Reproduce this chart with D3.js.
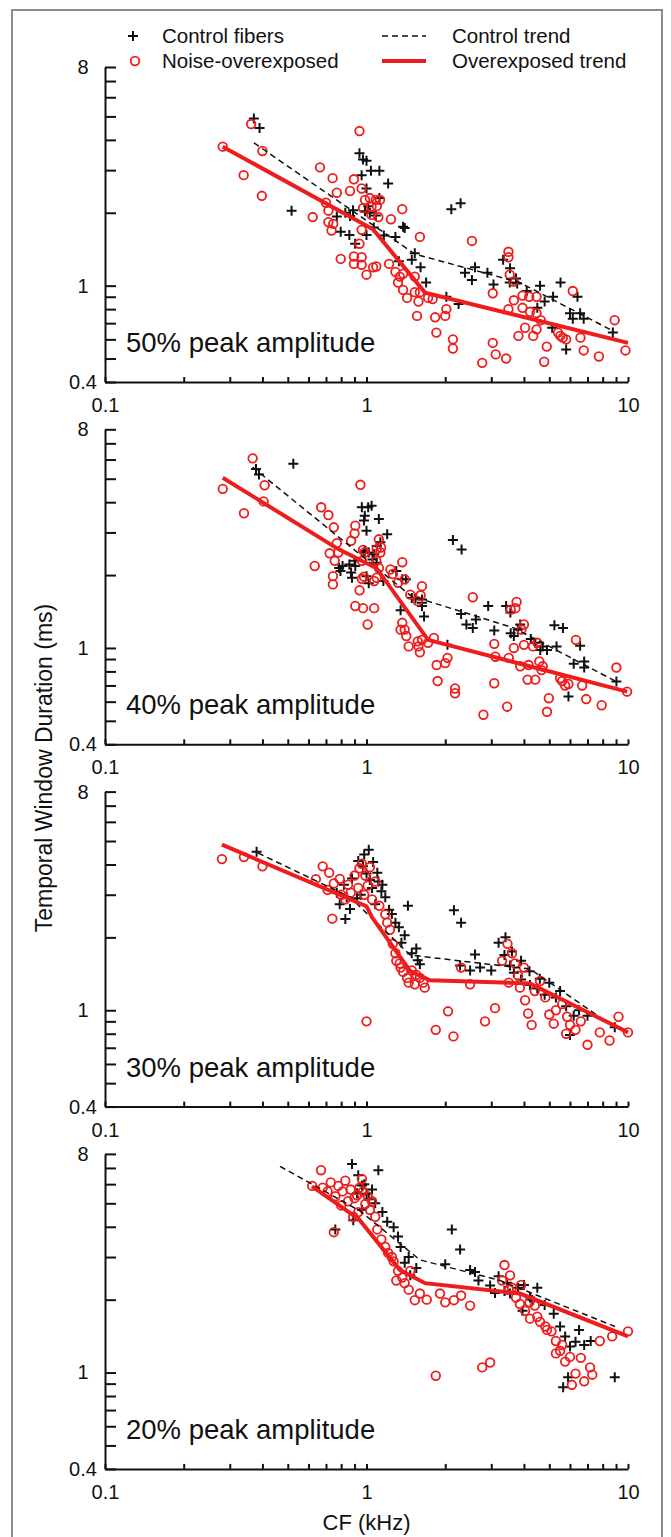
<!doctype html>
<html lang="en">
<head>
<meta charset="utf-8">
<title>Temporal window duration vs CF</title>
<script src="https://cdn.jsdelivr.net/npm/d3@7"></script>
<style>
  body { margin: 0; background: #fff; }
  svg text { font-family: Arial, "Liberation Sans", sans-serif; fill: #111; }
  .axis path, .axis line { stroke: #111; stroke-width: 2; }
  .axis text { font-size: 20px; }
  .ctrl { stroke: #111; stroke-width: 2; fill: none; }
  .noise { fill: none; stroke: #ee1c1c; stroke-width: 1.8; }
  .trend-ctrl { fill: none; stroke: #111; stroke-width: 1.5; stroke-dasharray: 6 4; }
  .trend-noise { fill: none; stroke: #ee1c1c; stroke-width: 4; }
</style>
</head>
<body>
<div id="chart"></div>
<script>
// panel titles, top to bottom
const levels = ['50% peak amplitude', '40% peak amplitude', '30% peak amplitude', '20% peak amplitude'];

// [CF (kHz), window duration (ms)]
const control50 = [[0.371,4.9],[0.39,4.48],[0.517,2.04],[0.94,3.52],[0.97,3.32],[1.0,3.28],[0.958,2.86],[1.04,2.98],[1.12,2.98],[1.21,2.64],[1.0,2.52],[1.12,2.30],[1.016,2.13],[0.987,2.03],[1.03,2.0],[1.085,1.95],[0.888,2.05],[0.83,2.0],[0.77,1.93],[0.865,1.94],[0.797,1.67],[0.86,1.62],[0.905,1.49],[1.0,1.62],[1.066,1.74],[1.165,1.61],[1.29,1.59],[1.38,1.75],[1.40,1.73],[2.11,2.07],[2.29,2.19],[1.53,1.36],[1.49,1.28],[1.33,1.26],[1.61,1.19],[1.69,1.03],[2.02,0.90],[2.25,0.84],[2.38,1.13],[2.60,1.19],[2.53,1.055],[2.90,1.13],[3.06,1.01],[3.33,1.28],[3.54,1.18],[3.53,1.03],[3.73,1.07],[3.77,1.02],[4.10,0.95],[4.61,1.0],[4.50,0.81],[4.80,0.86],[5.17,0.90],[5.52,1.03],[6.41,0.90],[6.0,0.77],[6.56,0.77],[6.15,0.73],[6.77,0.73],[5.13,0.67],[5.80,0.545],[8.75,0.64]];
const noise50 = [[0.282,3.75],[0.362,4.65],[0.40,3.60],[0.339,2.86],[0.398,2.35],[0.623,1.92],[0.664,3.08],[0.70,2.20],[0.715,2.04],[0.715,1.83],[0.94,4.35],[0.742,2.78],[0.895,2.75],[0.77,2.42],[0.865,2.46],[0.958,2.52],[0.746,1.80],[0.735,1.69],[0.958,1.70],[0.94,1.49],[0.797,1.29],[0.895,1.32],[0.958,1.31],[0.895,1.23],[0.958,1.22],[1.0,1.11],[1.06,1.19],[1.09,1.20],[0.987,2.26],[1.03,2.30],[1.085,2.26],[1.126,2.26],[0.97,2.09],[1.045,2.12],[1.095,2.13],[1.11,1.92],[1.045,1.96],[1.37,2.07],[1.24,1.88],[1.60,1.59],[1.22,1.23],[1.29,1.14],[1.34,1.09],[1.38,1.12],[1.32,1.03],[1.53,1.09],[1.38,0.96],[1.53,0.94],[1.60,0.94],[1.43,0.89],[1.58,0.86],[1.72,0.89],[1.79,0.88],[1.56,0.75],[1.83,0.74],[2.0,0.75],[2.02,0.80],[1.85,0.64],[2.14,0.60],[2.14,0.55],[2.53,1.53],[2.77,0.48],[3.04,0.58],[3.12,0.52],[3.42,0.50],[3.04,0.93],[3.49,1.38],[3.49,1.31],[3.53,1.11],[3.65,1.04],[3.49,0.80],[3.66,0.87],[3.95,0.91],[4.19,0.90],[4.47,0.90],[3.95,0.81],[4.22,0.78],[4.47,0.77],[4.64,0.72],[4.04,0.67],[3.81,0.62],[4.34,0.62],[4.47,0.66],[4.89,0.56],[4.78,0.485],[5.40,0.64],[5.51,0.62],[5.63,0.61],[5.80,0.60],[6.15,0.95],[6.58,0.61],[6.77,0.54],[7.74,0.51],[8.89,0.72],[9.78,0.54]];
const controlTrend50 = [[0.371,3.89],[1.533,1.35],[3.86,1.03],[8.76,0.65]];
const noiseTrend50 = [[0.282,3.75],[1.059,1.71],[1.674,0.936],[10,0.58]];

const control40 = [[0.378,5.49],[0.388,5.21],[0.525,5.76],[0.96,3.81],[1.015,3.81],[1.046,3.87],[0.985,3.52],[0.978,3.36],[1.0,3.05],[1.115,3.41],[1.20,2.95],[1.13,2.73],[1.094,2.64],[0.985,2.52],[0.978,2.48],[1.02,2.48],[1.07,2.44],[1.054,2.32],[0.90,2.29],[0.86,2.21],[0.81,2.18],[0.873,2.05],[0.88,1.95],[0.786,2.14],[0.795,2.08],[0.906,2.18],[1.02,1.85],[1.0,1.98],[1.094,2.25],[1.16,1.89],[1.30,2.08],[1.37,1.92],[1.415,1.92],[1.49,1.61],[1.54,1.60],[1.63,1.585],[1.63,1.536],[1.66,1.35],[1.63,1.49],[1.35,1.43],[2.14,2.79],[2.31,2.55],[2.04,1.03],[2.30,1.38],[2.41,1.25],[2.55,1.21],[2.62,1.31],[2.92,1.49],[3.08,1.18],[3.42,1.49],[3.55,1.40],[3.56,1.15],[3.66,1.12],[3.79,1.19],[3.87,1.25],[4.25,1.09],[4.42,1.05],[4.72,1.015],[4.90,0.98],[5.33,1.015],[4.62,0.98],[5.23,1.24],[5.64,1.21],[6.56,1.02],[6.2,0.86],[6.8,0.88],[6.8,0.83],[5.92,0.63],[9.03,0.726]];
const noise40 = [[0.367,6.07],[0.282,4.54],[0.408,4.70],[0.34,3.60],[0.404,4.03],[0.671,3.81],[0.715,3.54],[0.75,3.15],[0.634,2.18],[0.77,2.71],[0.78,2.48],[0.723,2.46],[0.756,2.29],[0.744,1.98],[0.744,1.83],[0.906,3.20],[0.90,2.97],[0.873,2.77],[0.948,4.72],[0.97,2.54],[0.985,2.48],[0.96,2.29],[0.978,1.97],[0.96,1.93],[0.941,1.73],[0.906,1.49],[0.97,1.46],[1.01,1.25],[1.07,1.46],[1.115,2.81],[1.137,2.60],[1.094,2.56],[1.13,2.48],[1.09,2.29],[1.115,2.14],[1.094,1.95],[1.07,1.89],[1.235,2.11],[1.26,2.02],[1.32,1.86],[1.37,2.26],[1.40,1.92],[1.63,1.80],[1.61,1.65],[1.47,1.66],[1.57,1.56],[1.37,1.27],[1.40,1.19],[1.35,1.19],[1.42,1.12],[1.45,1.015],[1.57,1.065],[1.63,1.08],[1.58,1.015],[1.60,0.96],[1.72,1.05],[1.81,1.10],[1.855,0.85],[2.0,0.866],[2.04,0.91],[1.87,0.73],[2.18,0.68],[2.18,0.65],[2.55,1.62],[2.80,0.53],[3.08,1.04],[3.11,0.92],[3.08,0.715],[3.45,0.572],[3.5,0.91],[3.56,1.44],[3.71,1.46],[3.75,1.55],[4.0,1.25],[3.91,1.19],[3.66,1.0],[3.87,0.84],[4.0,1.03],[4.13,0.74],[4.17,0.85],[4.33,1.015],[4.42,0.74],[4.50,1.05],[4.58,0.88],[4.72,0.84],[4.67,0.81],[4.98,0.62],[4.90,0.545],[5.5,0.75],[5.6,0.73],[5.75,0.70],[5.92,0.71],[6.32,1.08],[6.68,0.70],[6.92,0.615],[7.93,0.58],[9.03,0.83],[9.92,0.66]];
const controlTrend40 = [[0.367,5.58],[1.48,1.64],[3.66,1.21],[9.03,0.726]];
const noiseTrend40 = [[0.282,5.05],[0.78,2.56],[1.09,2.14],[1.72,1.08],[9.92,0.66]];

const control30 = [[0.38,4.51],[0.79,2.74],[0.84,2.93],[0.865,2.62],[0.83,2.38],[0.77,3.06],[0.93,4.13],[0.97,3.93],[1.0,3.67],[1.03,3.45],[1.05,3.20],[1.11,3.40],[1.14,3.10],[1.08,2.74],[1.18,2.93],[1.29,2.30],[1.40,2.04],[1.44,2.70],[1.49,1.72],[1.57,1.61],[2.16,2.59],[2.3,2.30],[2.28,1.53],[2.49,1.46],[2.72,1.50],[3.0,1.46],[3.37,1.69],[3.54,1.53],[3.66,1.43],[3.9,1.34],[4.22,1.27],[4.5,1.23],[4.8,1.16],[5.3,1.13],[5.8,1.04],[6.2,0.95],[6.0,0.79],[8.9,0.85],[0.82,3.3],[0.88,3.5],[0.92,2.9],[0.95,3.0],[0.98,4.4],[1.02,4.6],[1.06,4.1],[1.1,3.7],[1.15,3.3],[1.22,2.6],[1.25,2.5],[1.33,2.2],[1.36,1.9],[1.55,1.8],[1.6,1.55],[2.6,1.7],[3.2,1.9],[3.4,2.0],[3.6,1.75],[3.9,1.6],[4.2,1.45],[4.6,1.35],[5.0,1.3],[5.5,1.2],[6.5,1.0],[7.0,0.95]];
const noise30 = [[0.28,4.21],[0.34,4.29],[0.40,3.93],[0.64,3.48],[0.68,3.93],[0.71,3.14],[0.75,3.34],[0.79,3.49],[0.83,2.87],[0.74,2.39],[0.87,3.06],[0.94,3.86],[0.96,4.03],[0.99,3.60],[1.01,3.27],[1.05,2.87],[1.0,0.9],[1.18,2.49],[1.23,2.15],[1.26,1.88],[1.29,1.72],[1.34,1.56],[1.38,1.44],[1.43,1.36],[1.49,1.46],[1.53,1.28],[1.6,1.36],[1.67,1.24],[1.84,0.83],[2.05,0.99],[2.15,0.78],[2.49,1.28],[2.84,0.90],[3.1,1.02],[3.46,1.88],[3.6,1.72],[3.7,1.56],[3.8,1.39],[3.86,1.24],[4.04,1.10],[4.15,0.97],[4.28,0.87],[4.61,1.32],[4.83,1.13],[5.0,0.96],[5.2,0.88],[5.6,1.06],[5.85,0.94],[6.0,0.87],[6.3,0.83],[7.0,0.72],[7.8,0.81],[9.2,0.94],[10,0.81],[0.72,3.7],[0.8,3.0],[0.85,3.3],[0.9,3.6],[0.93,3.2],[0.98,3.0],[1.03,3.9],[1.08,3.4],[1.12,2.7],[1.2,2.3],[1.3,1.6],[1.35,1.5],[1.45,1.3],[1.55,1.4],[1.65,1.3],[2.3,1.5],[3.3,1.6],[3.5,1.3],[4.0,1.5],[4.4,1.2],[5.3,1.0],[5.8,0.8],[6.6,0.9],[8.5,0.75]];
const controlTrend30 = [[0.385,4.46],[0.865,2.93],[1.47,1.69],[4.22,1.48],[8.9,0.85]];
const noiseTrend30 = [[0.28,4.83],[1.0,2.69],[1.05,2.42],[1.47,1.45],[1.75,1.33],[4.22,1.29],[10,0.81]];

const control20 = [[0.88,7.26],[1.11,6.85],[0.93,6.53],[0.96,5.92],[1.0,5.48],[1.05,5.7],[0.96,4.7],[0.76,3.90],[0.89,4.26],[1.27,3.98],[1.32,3.65],[1.40,2.84],[1.47,2.52],[2.12,3.90],[2.28,3.22],[2.49,2.65],[2.68,2.40],[2.97,2.29],[3.1,2.13],[3.37,2.17],[3.54,2.12],[3.80,2.24],[3.95,1.80],[4.22,2.04],[4.5,2.24],[5.5,1.55],[5.75,1.41],[6.0,1.28],[6.3,1.34],[5.9,0.957],[5.65,0.87],[8.9,0.957],[0.98,6.0],[1.02,5.2],[1.08,5.0],[0.92,5.5],[1.15,4.6],[1.2,4.2],[1.35,3.3],[1.45,3.0],[1.55,2.7],[2.0,2.8],[2.6,2.6],[3.2,2.5],[3.45,2.35],[4.0,2.3],[4.3,2.0],[4.8,1.9],[5.2,1.75],[6.5,1.5],[6.8,1.3],[7.2,1.35]];
const noise20 = [[0.67,6.85],[0.62,5.9],[0.71,5.6],[0.76,5.35],[0.81,5.6],[0.85,5.1],[0.90,5.25],[0.94,5.8],[0.96,6.3],[0.99,4.97],[1.01,5.35],[1.05,5.1],[0.75,3.8],[0.89,4.4],[1.14,3.55],[1.21,3.12],[1.27,2.88],[1.32,2.63],[1.37,2.47],[1.40,2.34],[1.47,2.63],[1.53,1.99],[1.60,2.12],[1.91,2.12],[2.16,1.99],[2.3,2.08],[2.49,1.89],[1.84,0.97],[2.77,1.05],[2.97,1.1],[3.37,2.78],[3.54,2.52],[3.6,2.24],[3.73,2.04],[3.86,1.92],[4.04,1.80],[4.22,1.67],[4.4,1.89],[4.61,1.62],[4.83,1.55],[5.1,1.48],[5.3,1.35],[5.5,1.23],[5.75,1.11],[6.0,1.16],[6.3,0.99],[6.1,0.89],[7.16,1.05],[7.8,1.35],[8.7,1.41],[10,1.48],[0.68,5.8],[0.73,6.1],[0.78,5.9],[0.83,6.2],[0.87,5.7],[0.92,5.4],[0.97,5.6],[1.03,4.7],[1.08,4.4],[0.8,4.9],[0.93,4.6],[1.1,3.9],[1.18,3.3],[1.25,3.0],[1.3,2.4],[1.45,2.2],[1.7,2.0],[2.0,1.95],[3.3,2.4],[3.5,2.2],[3.9,2.3],[4.2,1.95],[4.5,1.7],[4.9,1.5],[5.3,1.2],[5.6,1.3],[6.6,1.15],[6.8,0.92],[7.3,0.98]];
const controlTrend20 = [[0.467,7.11],[0.944,4.65],[1.60,2.92],[3.24,2.40],[8.92,1.55]];
const noiseTrend20 = [[0.619,5.87],[0.936,4.30],[1.343,2.65],[1.674,2.34],[3.86,2.12],[10,1.41]];

// axis ticks
const xTicks = [0.1,0.2,0.3,0.4,0.5,0.6,0.7,0.8,0.9,1,2,3,4,5,6,7,8,9,10];
const xLabels = [0.1, 1, 10];
const yTicks = [0.4,0.5,0.6,0.7,0.8,0.9,1,2,3,4,5,6,7,8];
const yLabels = [0.4, 1, 8];

const panels = [
  { title: levels[0], control: control50, noise: noise50, cTrend: controlTrend50, nTrend: noiseTrend50 },
  { title: levels[1], control: control40, noise: noise40, cTrend: controlTrend40, nTrend: noiseTrend40 },
  { title: levels[2], control: control30, noise: noise30, cTrend: controlTrend30, nTrend: noiseTrend30 },
  { title: levels[3], control: control20, noise: noise20, cTrend: controlTrend20, nTrend: noiseTrend20 }
];

const width = 671, height = 1537;
const panelH = 315, firstTop = 67, step = 362.3;

const svg = d3.select('#chart').append('svg')
  .attr('width', width)
  .attr('height', height);

// grey frame round the figure
svg.append('rect')
  .attr('x', 12).attr('y', 10)
  .attr('width', 650).attr('height', 1540)
  .attr('fill', 'none')
  .attr('stroke', '#8c8c8c')
  .attr('stroke-width', 2);

const x = d3.scaleLog().domain([0.1, 10]).range([105, 628]);
const y = d3.scaleLog().domain([0.4, 8]).range([panelH, 0]);

const line = d3.line().x(d => x(d[0])).y(d => y(d[1]));
const cross = 'M-5,0H5M0,-5V5';

panels.forEach((p, i) => {
  const g = svg.append('g')
    .attr('transform', `translate(0,${firstTop + i * step})`);

  g.append('g')
    .attr('class', 'axis')
    .attr('transform', 'translate(105,0)')
    .call(d3.axisLeft(y).tickValues(yTicks).tickSize(-11).tickSizeOuter(0).tickPadding(22)
      .tickFormat(d => yLabels.includes(d) ? d3.format('~g')(d) : ''))
    .selectAll('text').attr('text-anchor', 'middle');

  g.append('g')
    .attr('class', 'axis')
    .attr('transform', `translate(0,${panelH})`)
    .call(d3.axisBottom(x).tickValues(xTicks).tickSize(-5).tickSizeOuter(0).tickPadding(16)
      .tickFormat(d => xLabels.includes(d) ? d3.format('~g')(d) : ''));

  g.append('g')
    .selectAll('path')
    .data(p.control)
    .join('path')
    .attr('class', 'ctrl')
    .attr('d', cross)
    .attr('transform', d => `translate(${x(d[0])},${y(d[1])})`);

  g.append('g')
    .selectAll('circle')
    .data(p.noise)
    .join('circle')
    .attr('class', 'noise')
    .attr('cx', d => x(d[0]))
    .attr('cy', d => y(d[1]))
    .attr('r', 4.3);

  g.append('path').datum(p.cTrend).attr('class', 'trend-ctrl').attr('d', line);
  g.append('path').datum(p.nTrend).attr('class', 'trend-noise').attr('d', line);

  g.append('text')
    .attr('x', 126)
    .attr('y', panelH - 30)
    .style('font-size', '27.5px')
    .text(p.title);
});

// legend
const legend = svg.append('g');
legend.append('path').attr('class', 'ctrl').attr('d', cross).attr('transform', 'translate(133,36)');
legend.append('circle').attr('class', 'noise').attr('cx', 135).attr('cy', 61).attr('r', 4.3);
legend.append('line').attr('class', 'trend-ctrl').attr('x1', 382).attr('x2', 426).attr('y1', 36).attr('y2', 36);
legend.append('line').attr('class', 'trend-noise').attr('x1', 382).attr('x2', 426).attr('y1', 61).attr('y2', 61);
[['Control fibers', 162, 36], ['Noise-overexposed', 162, 61], ['Control trend', 452, 36], ['Overexposed trend', 452, 61]]
  .forEach(t => {
    legend.append('text')
      .attr('x', t[1]).attr('y', t[2])
      .attr('dy', '0.35em')
      .style('font-size', '20.5px')
      .text(t[0]);
  });

// axis titles
svg.append('text')
  .attr('transform', 'translate(52,768) rotate(-90)')
  .attr('text-anchor', 'middle')
  .style('font-size', '23px')
  .text('Temporal Window Duration (ms)');

svg.append('text')
  .attr('x', 366.5)
  .attr('y', 1530)
  .attr('text-anchor', 'middle')
  .style('font-size', '22px')
  .text('CF (kHz)');
</script>
</body>
</html>
